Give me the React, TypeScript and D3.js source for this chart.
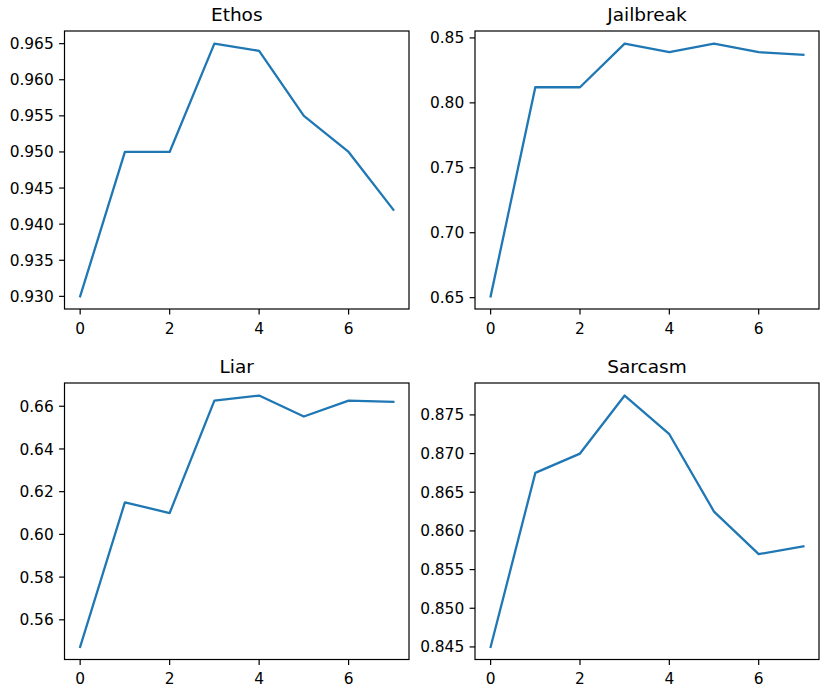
import React from "react";
import * as d3 from "d3";

const epochs = [0, 1, 2, 3, 4, 5, 6, 7];
const ethos = [0.93, 0.95, 0.95, 0.965, 0.964, 0.955, 0.95, 0.942];
const jailbreak = [0.651, 0.812, 0.812, 0.8456, 0.839, 0.8456, 0.839, 0.837];
const liar = [0.5473, 0.615, 0.61, 0.6626, 0.665, 0.6552, 0.6626, 0.6621];
const sarcasm = [0.845, 0.8675, 0.87, 0.8775, 0.8725, 0.8625, 0.857, 0.858];

const xTicks = [0, 2, 4, 6];
const ethosTicks = [0.93, 0.935, 0.94, 0.945, 0.95, 0.955, 0.96, 0.965];
const jailbreakTicks = [0.65, 0.7, 0.75, 0.8, 0.85];
const liarTicks = [0.56, 0.58, 0.6, 0.62, 0.64, 0.66];
const sarcasmTicks = [0.845, 0.85, 0.855, 0.86, 0.865, 0.87, 0.875];

const panels = [
  { title: "Ethos", values: ethos, ticks: ethosTicks, fmt: ".3f", box: [64.5, 31, 409, 309] },
  { title: "Jailbreak", values: jailbreak, ticks: jailbreakTicks, fmt: ".2f", box: [475, 31, 819, 309] },
  { title: "Liar", values: liar, ticks: liarTicks, fmt: ".2f", box: [64.5, 383, 409, 659.5] },
  { title: "Sarcasm", values: sarcasm, ticks: sarcasmTicks, fmt: ".3f", box: [475, 383, 819, 659.5] },
];

const FONT = "DejaVu Sans, sans-serif";
const COLOR = "#1f77b4";
const TICK = 5.4;
const PAD = 5.4;

function Panel({ p }: { p: any }) {
  const [x0, y0, x1, y1] = p.box;
  const xExt = d3.extent(epochs) as [number, number];
  const xPad = (xExt[1] - xExt[0]) * 0.05;
  const x = d3.scaleLinear().domain([xExt[0] - xPad, xExt[1] + xPad]).range([x0, x1]);
  const yExt = d3.extent(p.values as number[]) as [number, number];
  const yPad = (yExt[1] - yExt[0]) * 0.05;
  const y = d3.scaleLinear().domain([yExt[0] - yPad, yExt[1] + yPad]).range([y1, y0]);
  const line = d3
    .line<number>()
    .x((_, i) => x(epochs[i]))
    .y((d) => y(d));
  const f = d3.format(p.fmt);
  return (
    <g>
      <path d={line(p.values) || ""} fill="none" stroke={COLOR} strokeWidth={2.3} strokeLinejoin="round" strokeLinecap="square" />
      <rect x={x0} y={y0} width={x1 - x0} height={y1 - y0} fill="none" stroke="#000" strokeWidth={1.2} />
      {xTicks.map((t) => (
        <g key={"x" + t}>
          <line x1={x(t)} x2={x(t)} y1={y1} y2={y1 + TICK} stroke="#000" strokeWidth={1.2} />
          <text x={x(t)} y={y1 + 24.5} textAnchor="middle" fontSize={15.4} fontFamily={FONT} fill="#000">
            {t}
          </text>
        </g>
      ))}
      {p.ticks.map((t: number) => (
        <g key={"y" + t}>
          <line x1={x0 - TICK} x2={x0} y1={y(t)} y2={y(t)} stroke="#000" strokeWidth={1.2} />
          <text x={x0 - TICK - PAD} y={y(t)} dy="0.36em" textAnchor="end" fontSize={15.4} fontFamily={FONT} fill="#000">
            {f(t)}
          </text>
        </g>
      ))}
      <text x={(x0 + x1) / 2} y={y0 - 9.8} textAnchor="middle" fontSize={18.5} fontFamily={FONT} fill="#000">
        {p.title}
      </text>
    </g>
  );
}

export default function App() {
  return (
    <div style={{ position: "absolute", left: 0, top: 0 }}>
      <svg width={826} height={693} style={{ display: "block", background: "#fff" }}>
        {panels.map((p) => (
          <Panel key={p.title} p={p} />
        ))}
      </svg>
    </div>
  );
}
